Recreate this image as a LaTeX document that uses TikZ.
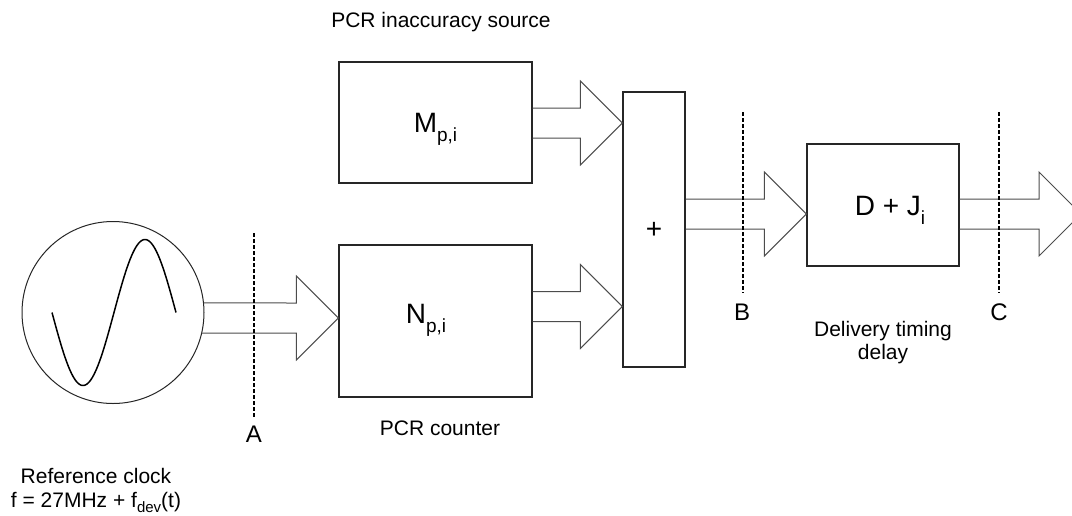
\documentclass[tikz,border=0pt]{standalone}
\usepackage{fontspec}
\setmainfont{Liberation Sans}
\usetikzlibrary{calc}
\newcommand{\bsub}[1]{\raisebox{-9pt}{\fontsize{19}{19}\selectfont #1}}
\newcommand{\ssub}[1]{\raisebox{-5pt}{\fontsize{15}{15}\selectfont #1}}
% fat open arrow: #1 top start, #2 bottom start, #3 tip
\newcommand{\fatarrow}[3]{%
  \draw[fatarr] (#1) -- ($(#3)+(-42,-15)$) -- ($(#3)+(-42,-42)$) -- (#3)
    -- ($(#3)+(-42,42)$) -- ($(#3)+(-42,15)$) -- (#2);}
\begin{document}
\begin{tikzpicture}[x=1pt,y=-1pt,
  box/.style={draw=black!85, line width=1.4pt, inner sep=0pt, rectangle},
  fatarr/.style={draw=black!70, line width=1pt, line join=miter},
  marker/.style={draw=black, line width=1.3pt, dash pattern=on 4pt off 2pt},
  lbl/.style={font=\fontsize{21}{23}\selectfont, inner sep=0pt, anchor=base},
  ptlbl/.style={font=\fontsize{24}{26}\selectfont, inner sep=0pt, anchor=base},
  biglbl/.style={font=\fontsize{28}{32}\selectfont, inner sep=0pt, anchor=base},
  sine/.style={draw=black, line width=1.5pt}]
\useasboundingbox (0,0) rectangle (1072,515);
\clip (0,0) rectangle (1072,515);

% blocks
\node[circle, draw=black!85, line width=1pt, minimum size=182pt, inner sep=0pt] (clk) at (113,312.5) {};
\node[box, minimum width=193pt, minimum height=121pt] (M) at (435.5,122.5) {};
\node[box, minimum width=193pt, minimum height=152pt] (N) at (435.5,321) {};
\node[box, minimum width=62pt, minimum height=275pt] (P) at (654,229.5) {};
\node[box, minimum width=152pt, minimum height=122pt] (D) at (883,205) {};
\coordinate (out) at (1081,214);

% sine in clock
\draw[sine] plot[domain=0:124, samples=90, smooth] ({52+\x},{312.5+73*sin(2.9032*\x)});

% block texts
\node[biglbl] (Mt) at (435.5,132) {M\bsub{p,i}};
\node[biglbl] (Nt) at (426,323) {N\bsub{p,i}};
\node[biglbl, anchor=center] (Pt) at (654,230) {+};
\node[biglbl] (Dt) at (890,215) {D + J\bsub{i}};

% fat arrows
\fatarrow{clk.6}{clk.-13}{N.west |- 0,318}
\fatarrow{M.east |- 0,108}{M.east |- 0,138}{P.west |- 0,123}
\fatarrow{N.east |- 0,291.5}{N.east |- 0,321.5}{P.west |- 0,306.5}
\fatarrow{P.east |- 0,199}{P.east |- 0,229}{D.west |- 0,214}
\fatarrow{D.east |- 0,199}{D.east |- 0,229}{out}

% measurement points
\coordinate (a1) at (254,233); \coordinate (a2) at (254,417);
\coordinate (b1) at (743,112); \coordinate (b2) at (743,293);
\coordinate (c1) at (999,112); \coordinate (c2) at (999,293);
\draw[marker] (a1) -- (a2);
\draw[marker] (b1) -- (b2);
\draw[marker] (c1) -- (c2);
\node[ptlbl] (A) at (254,442) {A};
\node[ptlbl] (B) at (742,320) {B};
\node[ptlbl] (C) at (999,320) {C};

% captions
\node[lbl] (src) at (441,27) {PCR inaccuracy source};
\node[lbl] (cnt) at (440,435) {PCR counter};
\node[lbl, anchor=north, align=center] (dly) at (883,320.7) {Delivery timing\\delay};
\node[lbl] (ref1) at (96,483) {Reference clock};
\node[lbl] (ref2) at (96,507) {f = 27MHz + f\ssub{dev}(t)};
\end{tikzpicture}
\end{document}
